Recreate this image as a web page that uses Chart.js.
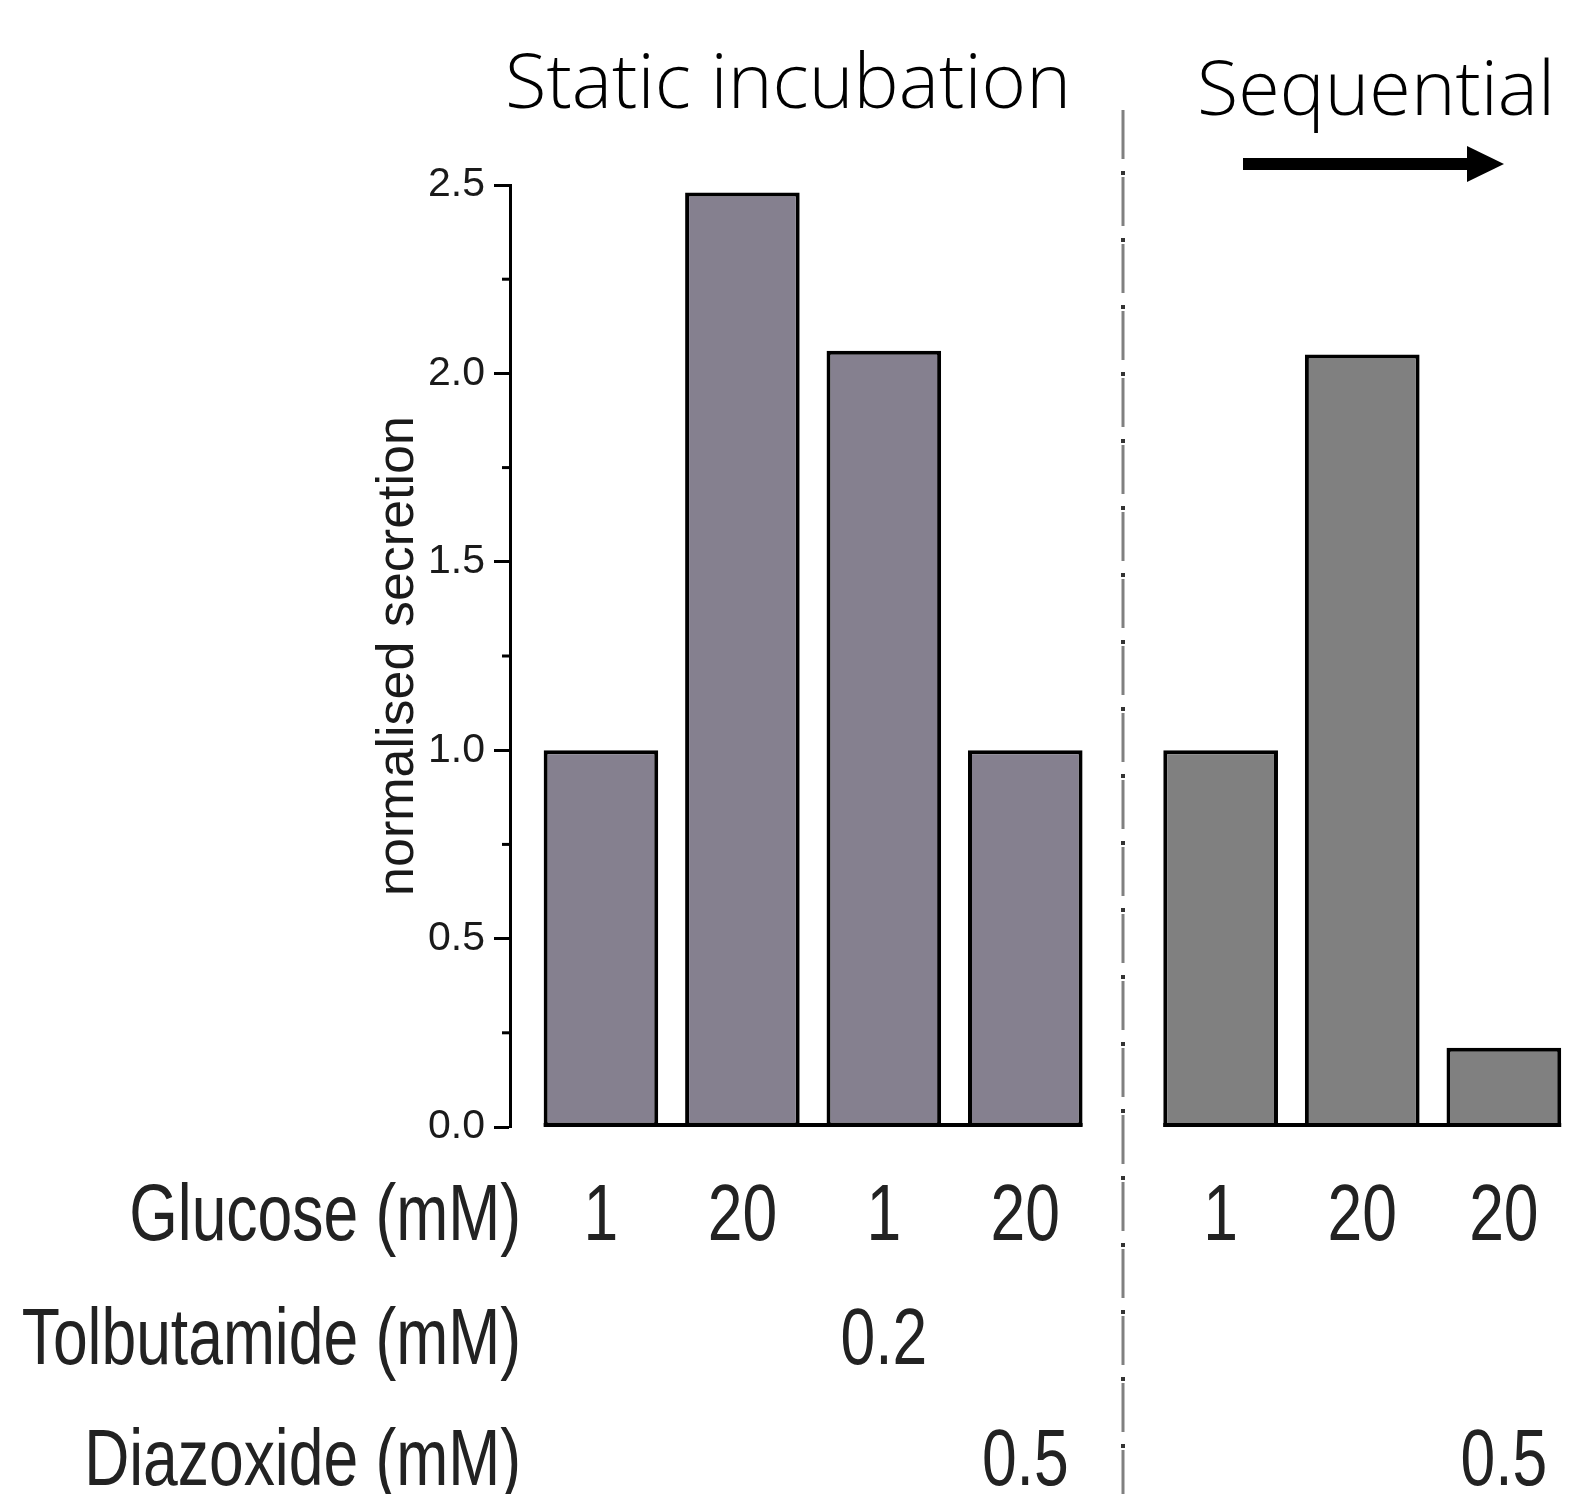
<!DOCTYPE html>
<html>
<head>
<meta charset="utf-8">
<script src="https://cdn.jsdelivr.net/npm/chart.js@4"></script>
<style>
  html, body { margin: 0; padding: 0; background: #fff; overflow: hidden; }
  #wrap { position: relative; width: 1569px; height: 1494px; }
  canvas { position: absolute; top: 0; }
  #staticChart { left: 0; }
  #seqChart { left: 1130px; }
</style>
</head>
<body>
<div id="wrap">
  <canvas id="staticChart" width="1130" height="1494"></canvas>
  <canvas id="seqChart" width="439" height="1494"></canvas>
</div>
<script>
// values
const staticGlucose = ['1', '20', '1', '20'];
const staticTolbutamide = ['', '', '0.2', ''];
const staticDiazoxide = ['', '', '', '0.5'];
const staticValues = [1.0, 2.48, 2.06, 1.0];

const seqGlucose = ['1', '20', '20'];
const seqTolbutamide = ['', '', ''];
const seqDiazoxide = ['', '', '0.5'];
const seqValues = [1.0, 2.05, 0.21];

const rowNames = ['Glucose (mM)', 'Tolbutamide (mM)', 'Diazoxide (mM)'];
const yMin = 0;
const yMax = 2.5;
const yStep = 0.25;

const LABEL_FONT = '"Liberation Sans", Arial, sans-serif';
const TITLE_FONT = '"Open Sans", "Noto Sans", sans-serif';
const ROW_BASELINES = [1240, 1364, 1485];
const ROW_SQUEEZE = 0.78;
const BAR_BORDER = 4;

function isMajor(v) {
  return Math.abs(v * 2 - Math.round(v * 2)) < 1e-9;
}

function squeezedText(ctx, text, x, y, align, squeeze) {
  ctx.save();
  ctx.translate(x, y);
  ctx.scale(squeeze, 1);
  ctx.textAlign = align;
  ctx.fillText(text, 0, 0);
  ctx.restore();
}

function fitText(ctx, text, left, y, width) {
  const w = ctx.measureText(text).width;
  ctx.save();
  ctx.translate(left, y);
  ctx.scale(width / w, 1);
  ctx.textAlign = 'left';
  ctx.fillText(text, 0, 0);
  ctx.restore();
}

// bottom table of conditions, baseline line between bars
function conditionRows(rows, showNames) {
  return {
    id: 'conditionRows',
    afterDatasetsDraw(chart) {
      const ctx = chart.ctx;
      const xs = chart.scales.x;
      const ys = chart.scales.y;
      const bars = chart.getDatasetMeta(0).data;
      const first = bars[0];
      const last = bars[bars.length - 1];
      const y0 = ys.getPixelForValue(0);
      ctx.save();
      ctx.fillStyle = '#000';
      ctx.fillRect(first.x - first.width / 2, y0 - BAR_BORDER, (last.x + last.width / 2) - (first.x - first.width / 2), BAR_BORDER);

      ctx.fillStyle = '#222';
      ctx.font = '80px ' + LABEL_FONT;
      ctx.textBaseline = 'alphabetic';
      rows.forEach((row, r) => {
        row.forEach((label, i) => {
          if (!label) return;
          squeezedText(ctx, label, xs.getPixelForValue(i + 1), ROW_BASELINES[r], 'center', ROW_SQUEEZE);
        });
        if (showNames) {
          squeezedText(ctx, rowNames[r], 521, ROW_BASELINES[r], 'right', ROW_SQUEEZE);
        }
      });
      ctx.restore();
    }
  };
}

const staticDecor = {
  id: 'staticDecor',
  afterDraw(chart) {
    const ctx = chart.ctx;
    const ys = chart.scales.y;
    ctx.save();
    // minor ticks
    ctx.strokeStyle = '#000';
    ctx.lineWidth = 3;
    ys.ticks.forEach(t => {
      if (isMajor(t.value)) return;
      const py = ys.getPixelForValue(t.value);
      ctx.beginPath();
      ctx.moveTo(ys.right - 8, py);
      ctx.lineTo(ys.right, py);
      ctx.stroke();
    });
    // separator
    for (let y = 110; y < 1494; y += 67) {
      ctx.fillStyle = '#808080';
      ctx.fillRect(1121.5, y, 3, 49);
      ctx.fillStyle = '#333';
      ctx.fillRect(1121, y + 61, 4, 4);
    }
    // title
    ctx.fillStyle = '#000';
    ctx.font = '300 76px ' + TITLE_FONT;
    ctx.textBaseline = 'alphabetic';
    fitText(ctx, 'Static incubation', 505, 108, 566);
    ctx.restore();
  }
};

const seqDecor = {
  id: 'seqDecor',
  afterDraw(chart) {
    const ctx = chart.ctx;
    ctx.save();
    ctx.fillStyle = '#000';
    ctx.font = '300 76px ' + TITLE_FONT;
    ctx.textBaseline = 'alphabetic';
    fitText(ctx, 'Sequential', 67, 115, 358);
    // arrow
    ctx.fillRect(113, 158, 226, 12);
    ctx.beginPath();
    ctx.moveTo(337, 146);
    ctx.lineTo(374, 164);
    ctx.lineTo(337, 182);
    ctx.closePath();
    ctx.fill();
    ctx.restore();
  }
};

function barData(values) {
  return values.map((v, i) => ({ x: i + 1, y: v }));
}

new Chart(document.getElementById('staticChart'), {
  type: 'bar',
  data: {
    datasets: [{
      data: barData(staticValues),
      backgroundColor: '#85808f',
      borderColor: '#000',
      borderWidth: BAR_BORDER,
      borderSkipped: false,
      barPercentage: 0.81,
      categoryPercentage: 1
    }]
  },
  options: {
    responsive: false,
    animation: false,
    layout: { padding: { left: 367, right: 34, top: 185, bottom: 367 } },
    plugins: { legend: { display: false }, tooltip: { enabled: false } },
    scales: {
      x: {
        type: 'linear',
        display: false,
        offset: false,
        min: 0.357,
        max: 4.5,
        ticks: { stepSize: 1, includeBounds: false }
      },
      y: {
        min: yMin,
        max: yMax,
        afterFit(scale) { scale.width = 143; },
        border: { display: true, width: 3, color: '#000' },
        grid: {
          display: true,
          drawOnChartArea: false,
          drawTicks: true,
          tickLength: 16,
          tickWidth: 3,
          tickColor: ctx => (ctx.tick && isMajor(ctx.tick.value)) ? '#000' : 'rgba(0,0,0,0)'
        },
        ticks: {
          stepSize: yStep,
          padding: 9,
          color: '#1a1a1a',
          font: { family: LABEL_FONT, size: 41 },
          callback: v => isMajor(v) ? v.toFixed(1) : ''
        },
        title: {
          display: true,
          text: 'normalised secretion',
          color: '#1a1a1a',
          padding: 0,
          font: { family: LABEL_FONT, size: 52, lineHeight: 1.2 }
        }
      }
    }
  },
  plugins: [conditionRows([staticGlucose, staticTolbutamide, staticDiazoxide], true), staticDecor]
});

new Chart(document.getElementById('seqChart'), {
  type: 'bar',
  data: {
    datasets: [{
      data: barData(seqValues),
      backgroundColor: '#808080',
      borderColor: '#000',
      borderWidth: BAR_BORDER,
      borderSkipped: false,
      barPercentage: 0.81,
      categoryPercentage: 1
    }]
  },
  options: {
    responsive: false,
    animation: false,
    layout: { padding: { left: 0, right: 0, top: 185, bottom: 367 } },
    plugins: { legend: { display: false }, tooltip: { enabled: false } },
    scales: {
      x: {
        type: 'linear',
        display: false,
        offset: false,
        min: 0.36,
        max: 3.46,
        ticks: { stepSize: 1, includeBounds: false }
      },
      y: { display: false, min: yMin, max: yMax }
    }
  },
  plugins: [conditionRows([seqGlucose, seqTolbutamide, seqDiazoxide], false), seqDecor]
});
</script>
</body>
</html>
